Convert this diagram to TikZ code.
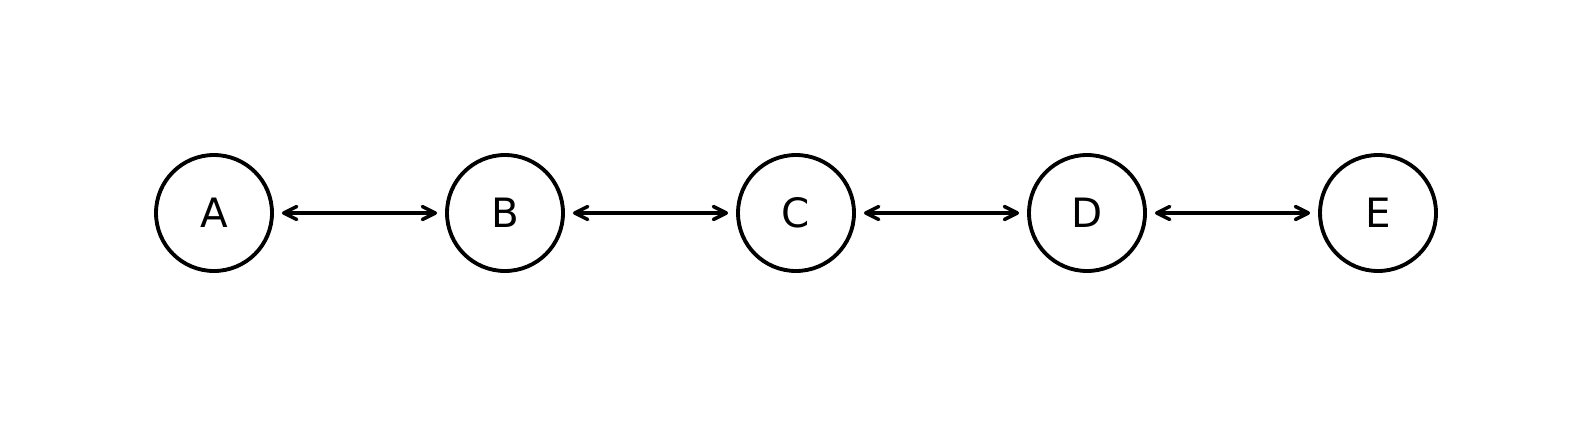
\documentclass[tikz,border=0pt]{standalone}
\usepackage{fontspec}
\setmainfont{DejaVu Sans}
\usepackage{tikz}
\usetikzlibrary{arrows.meta}

\begin{document}
\begin{tikzpicture}[scale=1,
    state/.style={circle, draw, line width=1.1pt, minimum size=11.6mm, inner sep=0pt, font=\fontsize{11.5}{13}\selectfont},
    link/.style={{Straight Barb[length=1.3mm, width=1.3mm, round]}-{Straight Barb[length=1.3mm, width=1.3mm, round]}, line width=1pt, shorten <=0.8mm, shorten >=0.8mm}]

            \useasboundingbox (0, 0) rectangle (15.89, 4.27);

            \node[state] (a) at (2.14, 2.14) {A};
            \node[state] (b) at (5.05, 2.14) {B};
            \node[state] (c) at (7.96, 2.14) {C};
            \node[state] (d) at (10.87, 2.14) {D};
            \node[state] (e) at (13.78, 2.14) {E};

            \draw[link] (a) -- (b);
            \draw[link] (b) -- (c);
            \draw[link] (c) -- (d);
            \draw[link] (d) -- (e);

          \end{tikzpicture}
\end{document}
